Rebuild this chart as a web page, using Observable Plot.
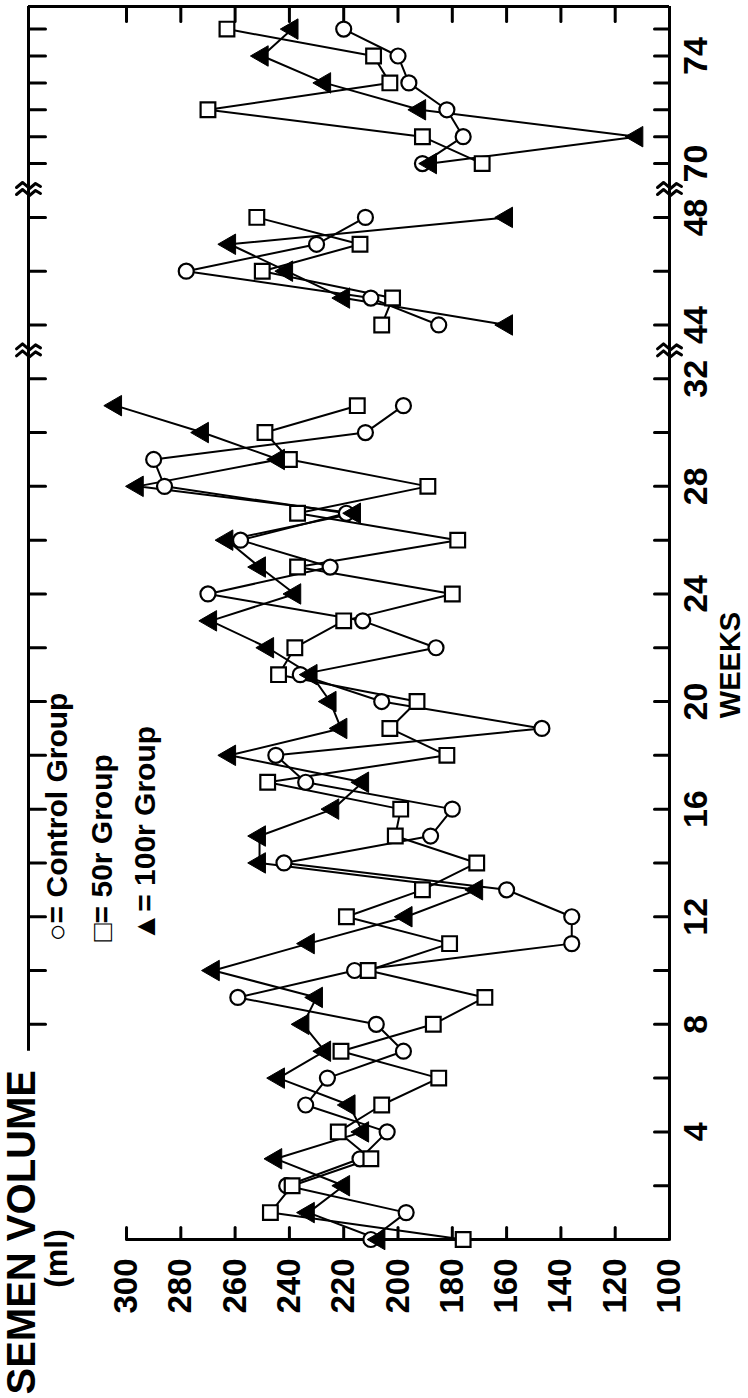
<!DOCTYPE html>
<html><head><meta charset="utf-8">
<script src="https://cdn.jsdelivr.net/npm/d3@7"></script>
<script src="https://cdn.jsdelivr.net/npm/@observablehq/plot@0.6"></script>
<style>html,body{margin:0;padding:0;background:#fff;} svg{display:block}</style>
</head><body><div id="chart"></div>
<script>
// ---- data (semen volume, ml) ----
const weeks = [0,1,2,3,4,5,6,7,8,9,10,11,12,13,14,15,16,17,18,19,20,21,22,23,24,25,26,27,28,29,30,31,
               44,45,46,47,48, 70,71,72,73,74,75];
const control = [210,197,241,214,204,234,226,198,208,259,216,136,136,160,242,188,180,234,245,147,206,236,186,213,270,225,258,219,286,290,212,198,
                 185,210,278,230,212, 191,176,182,196,200,220];
const group50 = [176,247,239,210,222,206,185,221,187,168,211,181,219,191,171,201,199,248,182,203,193,244,238,220,180,237,178,237,189,240,249,215,
                 206,202,250,214,252, 169,191,270,203,209,263];
const group100 = [207,233,220,245,213,218,244,227,235,230,268,233,197,171,251,251,224,213,262,221,225,232,248,269,238,251,263,216,296,244,272,304,
                  160,220,241,262,160, 188,112,192,227,250,239];
const volumeTicks = [300,280,260,240,220,200,180,160,140,120,100];
const topTicks = [300,280,260,240,220,200,180,160,140,120];
const weekLabels = [4,8,12,16,20,24,28,32,44,48,70,74];
const weekTicksRight = [2,4,6,8,10,12,14,16,18,20,22,24,26,28,30,32,44,46,48,70,71,72,73,74,75];
const weekTicksLeft = [8,10,12,14,16,18,20,22,24,26,28,30,32,44,46,48,70,71,72,73,74,75];
const legendLabels = ["○= Control Group", "□= 50r Group", "▲= 100r Group"];
const yTitle = "SEMEN VOLUME";
const yUnit = "(ml)";
const xTitle = "WEEKS";

// broken week axis: 0–32, 44–48, 70–75
const pos = w => w <= 32 ? w : w <= 48 ? w - 10 : w - 30;
const seg = w => w <= 32 ? 0 : w <= 48 ? 1 : 2;
const breakPos = [pos(32) + 1, pos(48) + 1];

const rows = arr => weeks.map((w, i) => ({week: w, v: arr[i], seg: seg(w)}));
const cData = rows(control), sData = rows(group50), tData = rows(group100);

const xLeft = 336.1, yTop = 45.84, leftEnd = 7.0;
const font = "Liberation Sans";

const tickShape = {draw(ctx, l) { ctx.moveTo(0, 0); ctx.lineTo(0, -l); }};
const breakShape = {draw(ctx) {
  ctx.moveTo(-12, -3); ctx.lineTo(-6, -8); ctx.lineTo(1, -2); ctx.lineTo(7, -7); ctx.lineTo(12, -4);
  ctx.moveTo(-12, 4); ctx.lineTo(-6, -1); ctx.lineTo(1, 5); ctx.lineTo(7, 0); ctx.lineTo(12, 3);
}};
const triLeft = {draw(ctx, size) {
  const s3 = Math.sqrt(3);
  const y = -Math.sqrt(size / (s3 * 3));
  ctx.moveTo(2 * y, 0); ctx.lineTo(-y, s3 * y); ctx.lineTo(-y, -s3 * y); ctx.closePath();
}};

const X = d => d.v, Y = d => pos(d.week);
const lineOpts = {x: X, y: Y, z: "seg", stroke: "black", strokeWidth: 2};
const txt = {fill: "black", fontWeight: "bold", fontFamily: font, rotate: -90, lineAnchor: "middle"};

const chart = Plot.plot({
  width: 748, height: 1398,
  marginLeft: 28, marginRight: 79, marginTop: 6, marginBottom: 159,
  style: {fontFamily: font, background: "white"},
  x: {domain: [xLeft, 100], axis: null},
  y: {domain: [0, yTop], axis: null},
  marks: [
    // frame
    Plot.ruleY([0], {x1: 300, x2: 100, stroke: "black", strokeWidth: 3}),
    Plot.ruleX([100], {y1: 0, y2: yTop, stroke: "black", strokeWidth: 3}),
    Plot.ruleY([yTop], {x1: xLeft, x2: 100, stroke: "black", strokeWidth: 3}),
    Plot.ruleX([xLeft], {y1: leftEnd, y2: yTop, stroke: "black", strokeWidth: 3}),
    // ticks
    Plot.vector(volumeTicks, {x: d => d, y: 0, rotate: 0, length: 12, anchor: "start", shape: tickShape, stroke: "black", strokeWidth: 3}),
    Plot.vector(topTicks, {x: d => d, y: yTop, rotate: 180, length: 15, anchor: "start", shape: tickShape, stroke: "black", strokeWidth: 3}),
    Plot.vector(weekTicksRight, {x: 100, y: d => pos(d), rotate: -90, length: 15, anchor: "start", shape: tickShape, stroke: "black", strokeWidth: 3}),
    Plot.vector(weekTicksLeft, {x: xLeft, y: d => pos(d), rotate: 90, length: 17, anchor: "start", shape: tickShape, stroke: "black", strokeWidth: 3}),
    // axis breaks
    Plot.vector(breakPos, {x: 100, y: d => d, rotate: 0, length: 10, anchor: "start", shape: breakShape, stroke: "black", strokeWidth: 3}),
    Plot.vector(breakPos, {x: xLeft, y: d => d, rotate: 0, length: 10, anchor: "start", shape: breakShape, stroke: "black", strokeWidth: 3}),
    // tick labels
    Plot.text(volumeTicks, {x: d => d, frameAnchor: "bottom", dy: 19, textAnchor: "end", fontSize: 33, text: d => String(d), ...txt}),
    Plot.text(weekLabels, {y: d => pos(d), frameAnchor: "right", dx: 27, textAnchor: "middle", fontSize: 34, text: d => String(d), ...txt}),
    // titles
    Plot.text([xTitle], {frameAnchor: "right", dx: 61, dy: 42, textAnchor: "middle", fontSize: 29, text: d => d, ...txt}),
    Plot.text([yTitle], {frameAnchor: "bottom-left", dx: -6, dy: 155, textAnchor: "start", fontSize: 40, text: d => d, ...txt}),
    Plot.text([yUnit], {frameAnchor: "bottom-left", dx: 28, dy: 19, textAnchor: "middle", fontSize: 32, text: d => d, ...txt}),
    // legend
    Plot.text([legendLabels[0]], {frameAnchor: "bottom-left", dx: 29, dy: -298, textAnchor: "start", fontSize: 30, text: d => d, ...txt}),
    Plot.text([legendLabels[1]], {frameAnchor: "bottom-left", dx: 74, dy: -298, textAnchor: "start", fontSize: 30, text: d => d, ...txt}),
    Plot.text([legendLabels[2]], {frameAnchor: "bottom-left", dx: 117, dy: -298, textAnchor: "start", fontSize: 30, text: d => d, ...txt}),
    // series lines
    Plot.line(cData, lineOpts),
    Plot.line(sData, lineOpts),
    Plot.line(tData, lineOpts),
    // markers
    Plot.dot(cData, {x: X, y: Y, symbol: "circle", r: 7.5, fill: "white", stroke: "black", strokeWidth: 2.2}),
    Plot.dot(sData, {x: X, y: Y, symbol: "square", r: 8.3, fill: "white", stroke: "black", strokeWidth: 2.2}),
    Plot.dot(tData, {x: X, y: Y, symbol: triLeft, r: 7.6, fill: "black", stroke: "black", strokeWidth: 1})
  ]
});
document.getElementById("chart").appendChild(chart);
</script>
</body></html>
